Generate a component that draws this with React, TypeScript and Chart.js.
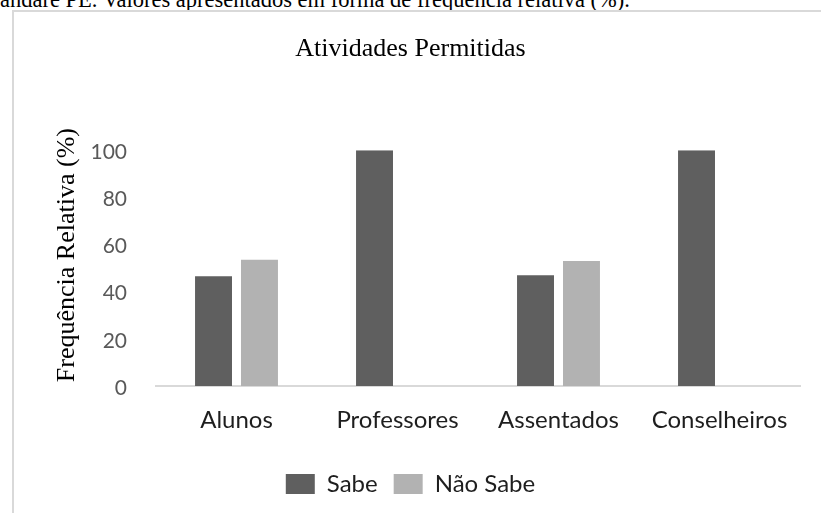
import React, { useEffect, useRef } from "react";
import { Chart, registerables } from "chart.js";

Chart.register(...registerables);

const caption = "andare PE. Valores apresentados em forma de frequência relativa (%).";
const chartTitle = "Atividades Permitidas";
const yAxisTitle = "Frequência Relativa (%)";
const categories = ["Alunos", "Professores", "Assentados", "Conselheiros"];
const seriesNames = ["Sabe", "Não Sabe"];
const sabe = [46.5, 100, 47, 100];
const naoSabe = [53.5, 0, 53, 0];
const yMin = 0;
const yMax = 100;
const yStep = 20;

export default function App() {
  const ref = useRef<HTMLCanvasElement | null>(null);

  useEffect(() => {
    if (!ref.current) return;
    const chart = new Chart(ref.current, {
      type: "bar",
      data: {
        labels: categories,
        datasets: [
          {
            label: seriesNames[0],
            data: sabe,
            backgroundColor: "#5f5f5f",
            borderWidth: 0,
            categoryPercentage: 0.571,
            barPercentage: 0.804,
          },
          {
            label: seriesNames[1],
            data: naoSabe,
            backgroundColor: "#b2b2b2",
            borderWidth: 0,
            categoryPercentage: 0.571,
            barPercentage: 0.804,
          },
        ],
      },
      options: {
        responsive: false,
        maintainAspectRatio: false,
        animation: false,
        layout: { padding: { left: 0, right: 0, top: 0, bottom: 7 } },
        plugins: {
          title: {
            display: true,
            text: chartTitle,
            color: "#000",
            font: { family: "Liberation Serif", size: 26, weight: "normal" },
            padding: { top: 34, bottom: 85 },
          },
          legend: {
            position: "bottom",
            labels: {
              boxWidth: 29,
              boxHeight: 20,
              padding: 16,
              color: "#1e1e1e",
              font: { family: "Lato", size: 24 },
            },
          },
          tooltip: { enabled: false },
        },
        scales: {
          x: {
            grid: { display: false, drawTicks: false },
            border: { display: true, color: "#d9d9d9", width: 2 },
            ticks: {
              padding: 20,
              color: "#1e1e1e",
              font: { family: "Lato", size: 24 },
            },
            afterFit: (s: any) => {
              s.height = 70;
            },
          },
          y: {
            min: yMin,
            max: yMax,
            grid: { display: false, drawTicks: false },
            border: { display: false },
            ticks: {
              stepSize: yStep,
              padding: 29,
              labelOffset: 2,
              color: "#595959",
              font: { family: "Lato", size: 21 },
            },
            title: {
              display: true,
              text: "    " + yAxisTitle,
              color: "#000",
              font: { family: "Liberation Serif", size: 26, weight: "normal" },
              padding: { top: 52, bottom: 0 },
            },
            afterFit: (s: any) => {
              s.width = 156;
            },
          },
          yR: {
            position: "right",
            display: true,
            grid: { display: false, drawTicks: false },
            border: { display: false },
            ticks: { display: false },
            afterFit: (s: any) => {
              s.width = 21;
            },
          },
        },
      },
    } as any);
    return () => chart.destroy();
  }, []);

  return (
    <div
      style={{
        position: "fixed",
        left: 0,
        top: 0,
        width: 821,
        height: 513,
        overflow: "hidden",
        background: "#fff",
      }}
    >
      <div
        style={{
          position: "absolute",
          left: 0,
          top: -11,
          whiteSpace: "nowrap",
          fontFamily: "'Liberation Serif', serif",
          fontSize: "22.5px",
          lineHeight: "22.5px",
          color: "#000",
        }}
      >
        {caption}
      </div>
      <div
        style={{
          position: "absolute",
          left: 12,
          top: 10,
          width: 900,
          height: 600,
          border: "2px solid #d9d9d9",
          boxSizing: "border-box",
        }}
      />
      <canvas
        ref={ref}
        width={821}
        height={513}
        style={{ position: "absolute", left: 0, top: 0, display: "block" }}
      />
    </div>
  );
}
